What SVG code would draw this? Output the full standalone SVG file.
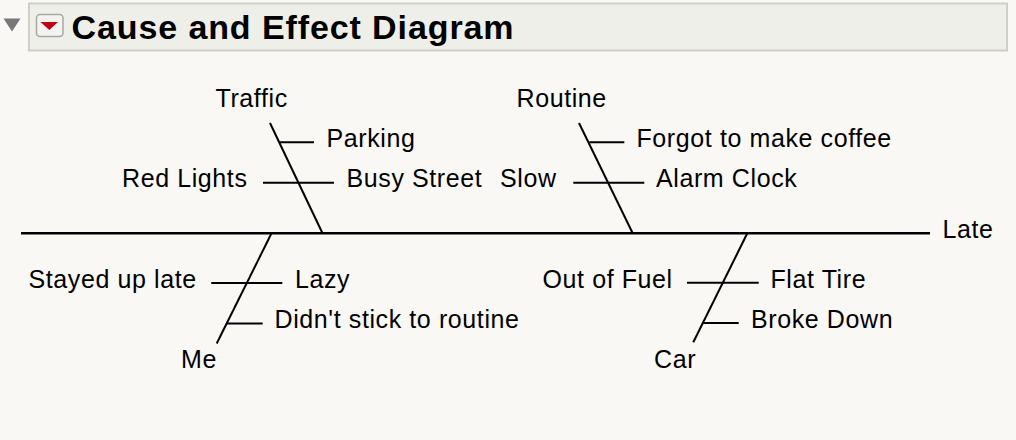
<svg xmlns="http://www.w3.org/2000/svg" width="1016" height="440" viewBox="0 0 1016 440">
<style>
text{font-family:"Liberation Sans",Arial,sans-serif;font-size:25px;letter-spacing:0.6px;fill:#000}
.title{font-weight:bold;font-size:34px;letter-spacing:0.9px}
.bone{stroke:#000;stroke-width:2;fill:none}
.spine{stroke:#000;stroke-width:2.6;fill:none}
</style>
<rect width="1016" height="440" fill="#f9f8f5"/>
<g id="header">
<polygon points="3.5,18.5 20.5,18.5 12,31.5" fill="#787878"/>
<rect x="29" y="3.5" width="978" height="47" fill="#efefea" stroke="#cfcfc8" stroke-width="2"/>
<rect x="36.5" y="14.5" width="26.5" height="22" rx="3.5" fill="#f3f3ef" stroke="#a8a8a4" stroke-width="1.5"/>
<polygon points="40.5,22 58,22 49.25,30" fill="#c00018"/>
<text class="title" x="71.5" y="38.5">Cause and Effect Diagram</text>
</g>
<g id="connectors">
<line class="spine" x1="21" y1="233.3" x2="930" y2="233.3"/>
<line class="bone" x1="270" y1="123" x2="322.5" y2="233.3"/>
<line class="bone" x1="280" y1="142.3" x2="314" y2="142.3"/>
<line class="bone" x1="263" y1="182.7" x2="334" y2="182.7"/>
<line class="bone" x1="579" y1="123" x2="632.7" y2="233.3"/>
<line class="bone" x1="589.3" y1="142.3" x2="624.3" y2="142.3"/>
<line class="bone" x1="573.3" y1="182.7" x2="644.3" y2="182.7"/>
<line class="bone" x1="271.5" y1="233.3" x2="216.7" y2="343.5"/>
<line class="bone" x1="211.3" y1="283" x2="282.3" y2="283"/>
<line class="bone" x1="227.2" y1="323.5" x2="262.7" y2="323.5"/>
<line class="bone" x1="747.3" y1="233.3" x2="693.3" y2="342.3"/>
<line class="bone" x1="687" y1="282.7" x2="758.7" y2="282.7"/>
<line class="bone" x1="703.3" y1="323" x2="738.7" y2="323"/>
</g>
<g id="effect"><text x="942.5" y="237.5">Late</text></g>
<g id="traffic">
<text x="215.5" y="107">Traffic</text>
<text x="326.5" y="147">Parking</text>
<text x="122" y="187">Red Lights</text>
<text x="346.5" y="187">Busy Street</text>
</g>
<g id="routine">
<text x="516.5" y="107">Routine</text>
<text x="636.5" y="147">Forgot to make coffee</text>
<text x="500" y="187">Slow</text>
<text x="656" y="187">Alarm Clock</text>
</g>
<g id="me">
<text x="28.5" y="287.5">Stayed up late</text>
<text x="295" y="287.5">Lazy</text>
<text x="274.5" y="327.5">Didn't stick to routine</text>
<text x="181" y="367.5">Me</text>
</g>
<g id="car">
<text x="542.5" y="287.5">Out of Fuel</text>
<text x="770.5" y="287.5">Flat Tire</text>
<text x="751" y="327.5">Broke Down</text>
<text x="654" y="367.5">Car</text>
</g>
</svg>
